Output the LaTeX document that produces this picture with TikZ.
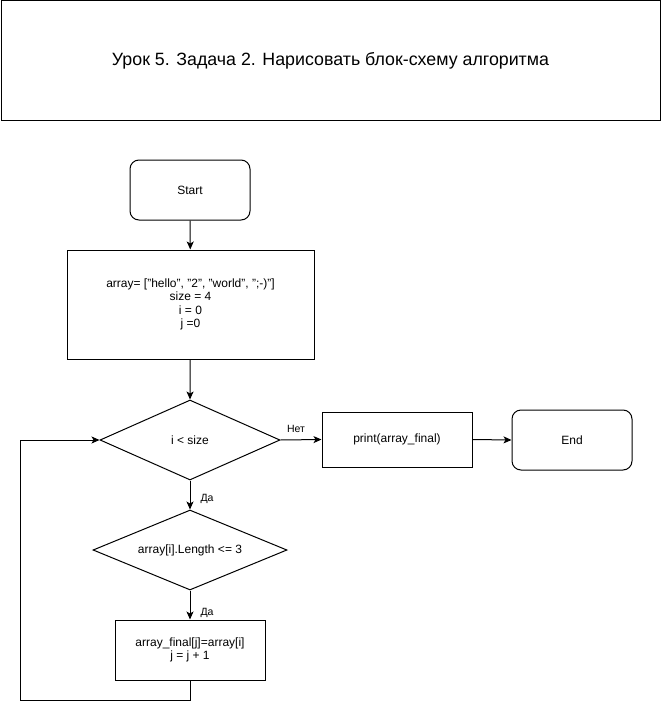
\documentclass[tikz,border=0pt]{standalone}
\usepackage{fontspec}
\setmainfont{Liberation Sans}
\usetikzlibrary{shapes.geometric,arrows.meta}
\begin{document}
\begin{tikzpicture}[x=1pt,y=-1pt,
  every node/.style={font=\fontsize{12}{13.5}\selectfont, align=center, inner sep=0pt},
  blk/.style={draw, line width=1pt},
  rblk/.style={draw, line width=1pt, rounded corners=9pt},
  conn/.style={line width=1pt, -{Stealth[length=8pt,width=7pt,inset=2pt]}},
  lbl/.style={font=\fontsize{10.5}{12}\selectfont}]
\useasboundingbox (0,0) rectangle (661,709);
\node[blk, minimum width=659pt, minimum height=119pt] (title) at (330.5,60.5) {\fontsize{17.8}{20}\selectfont Урок 5. Задача 2. Нарисовать блок-схему алгоритма};
\node[rblk, minimum width=120pt, minimum height=60pt] (start) at (190,190) {Start};
\node[blk, minimum width=247pt, minimum height=109pt] (init) at (190.5,304.5) {array= ["hello", "2", "world", ";-)"]\\size = 4\\i = 0\\j =0};
\node[draw, line width=1pt, shape=diamond, minimum width=180pt, minimum height=80pt, aspect=2.25] (d1) at (190,440) {};
\node at (190,440) {i < size};
\node[blk, minimum width=150pt, minimum height=55pt] (print) at (397,439.5) {print(array\_final)};
\node[rblk, minimum width=120pt, minimum height=60pt] (end) at (572,440) {End};
\node[draw, line width=1pt, shape=diamond, minimum width=194pt, minimum height=80pt, aspect=2.4] (d2) at (190,550) {};
\node at (190,550) {array[i].Length <= 3};
\node[blk, minimum width=150pt, minimum height=60pt] (body) at (190,650) {array\_final[j]=array[i]\\j = j + 1};
\coordinate (c1) at (190,700);
\coordinate (c2) at (20,700);
\coordinate (c3) at (20,440);
\draw[conn] (start) -- (init);
\draw[conn] (init) -- (d1.north);
\draw[conn] (d1.east) -- (print.west);
\draw[conn] (print.east) -- (end.west);
\draw[conn] (d1.south) -- (d2.north);
\draw[conn] (d2.south) -- (body.north);
\draw[conn] (body.south) -- (c1) -- (c2) -- (c3) -- (d1.west);
\node[lbl] (no) at (296,429) {Нет};
\node[lbl] (yes1) at (207,499) {Да};
\node[lbl] (yes2) at (207,613) {Да};
\end{tikzpicture}
\end{document}
